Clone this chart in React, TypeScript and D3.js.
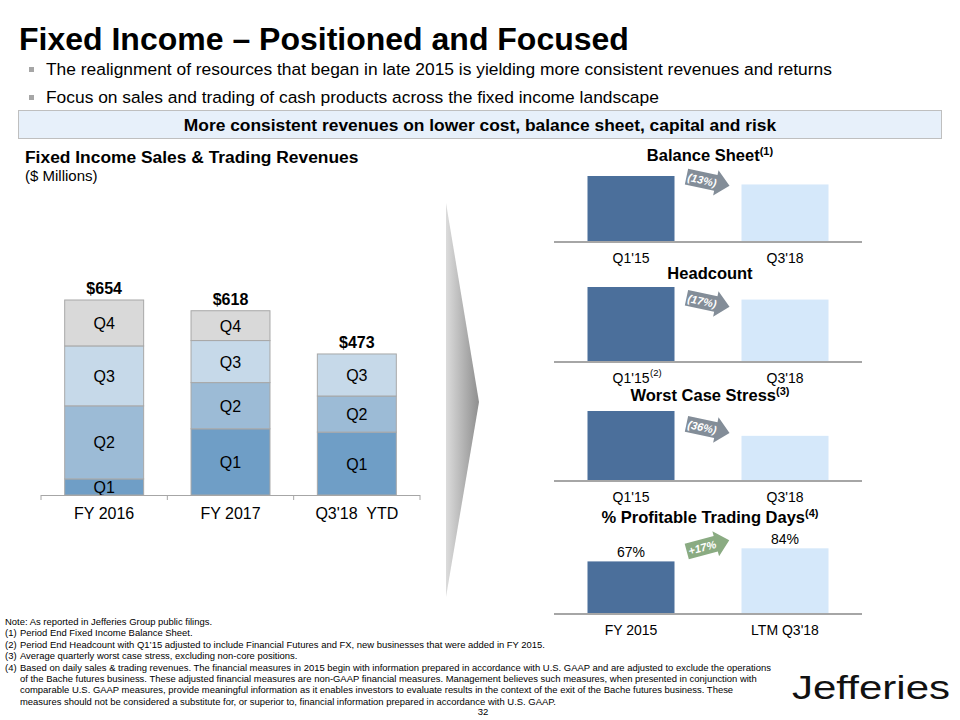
import React from "react";
import * as d3 from "d3";

// ---------- Data ----------
const categories = ["FY 2016", "FY 2017", "Q3'18  YTD"];
const quarterKeys = ["Q1", "Q2", "Q3", "Q4"];
const q1Values = [54, 222, 211];
const q2Values = [245, 155, 121];
const q3Values = [201, 141, 141];
const q4Values = [154, 100, 0];

const panelTitles = ["Balance Sheet", "Headcount", "Worst Case Stress", "% Profitable Trading Days"];
const panelTitleNotes = ["(1)", "", "(3)", "(4)"];
const panelCategories = [
  ["Q1'15", "Q3'18"],
  ["Q1'15", "Q3'18"],
  ["Q1'15", "Q3'18"],
  ["FY 2015", "LTM Q3'18"],
];
const panelCategoryNotes = [["", ""], ["(2)", ""], ["", ""], ["", ""]];
const panelValues = [
  [100, 87],
  [100, 83],
  [100, 64],
  [67, 84],
];
const panelValueLabels = [["", ""], ["", ""], ["", ""], ["67%", "84%"]];
const panelChanges = ["(13%)", "(17%)", "(36%)", "+17%"];

const bulletTexts = [
  "The realignment of resources that began in late 2015 is yielding more consistent revenues and returns",
  "Focus on sales and trading of cash products across the fixed income landscape",
];
const footnotes = [
  "Note: As reported in Jefferies Group public filings.",
  "(1)|Period End Fixed Income Balance Sheet.",
  "(2)|Period End Headcount with Q1\u201915 adjusted to include Financial Futures and FX, new businesses that were added in FY 2015.",
  "(3)|Average quarterly worst case stress, excluding non-core positions.",
  "(4)|Based on daily sales & trading revenues. The financial measures in 2015 begin with information prepared in accordance with U.S. GAAP and are adjusted to exclude the operations",
  "|of the Bache futures business. These adjusted financial measures are non-GAAP financial measures. Management believes such measures, when presented in conjunction with",
  "|comparable U.S. GAAP measures, provide meaningful information as it enables investors to evaluate results in the context of the exit of the Bache futures business. These",
  "|measures should not be considered a substitute for, or superior to, financial information prepared in accordance with U.S. GAAP.",
];

// ---------- Styles ----------
const FONT = "'Liberation Sans', Arial, Helvetica, sans-serif";
const quarterColors = ["#6f9ec6", "#9cbbd6", "#c6d9e9", "#d9d9d9"];
const darkBar = "#4b6f9b";
const lightBar = "#d5e8fa";
const axisGray = "#a6a6a6";

// panel layout
const panelBaselines = [241, 361, 480, 613];
const panelHeights = [65, 74, 69, 77];
const panelTitleYs = [161, 279, 401, 523];
const arrowOffsets = [1, 9, 5, -9];

export default function App() {
  // ---- left stacked chart ----
  const x = d3.scaleBand<string>().domain(categories).range([41, 420]).paddingInner(0.375).paddingOuter(0.1875);
  const y = d3.scaleLinear().domain([0, 654]).range([495, 300]);
  const rows = categories.map((c, i) => ({
    cat: c,
    Q1: q1Values[i],
    Q2: q2Values[i],
    Q3: q3Values[i],
    Q4: q4Values[i],
  }));
  const stack = d3.stack<any>().keys(quarterKeys)(rows);
  const totals = rows.map((r) => r.Q1 + r.Q2 + r.Q3 + r.Q4);
  const tickXs = [41, ...categories.map((c) => (x(c) as number) + x.bandwidth() + (x.step() - x.bandwidth()) / 2)];

  // ---- right panels ----
  const px = d3.scaleBand<number>().domain([0, 1]).range([554, 862]).paddingInner(0.435).paddingOuter(0.2175);

  return (
    <svg
      width={960}
      height={720}
      style={{ position: "absolute", left: 0, top: 0, background: "#fff" }}
      fontFamily={FONT}
    >
      <defs>
        <linearGradient id="chev" x1="0" x2="1" y1="0" y2="0">
          <stop offset="0" stopColor="#dcdcdc" />
          <stop offset="1" stopColor="#8e8e8e" />
        </linearGradient>
      </defs>
      <rect x={0} y={0} width={960} height={720} fill="#fff" />

      {/* Title */}
      <text x={19} y={50} fontSize={32} fontWeight="bold" fill="#000">
        Fixed Income – Positioned and Focused
      </text>
      {bulletTexts.map((t, i) => (
        <g key={i}>
          <rect x={29} y={67 + i * 28} width={5} height={5} fill="#a6a6a6" />
          <text x={46} y={75 + i * 28} fontSize={17.4} fill="#000">
            {t}
          </text>
        </g>
      ))}
      <rect x={18.5} y={110.5} width={923} height={28} fill="#e7f0fa" stroke="#bfbfbf" strokeWidth={1} />
      <text x={480} y={131} fontSize={17.4} fontWeight="bold" textAnchor="middle" fill="#000">
        More consistent revenues on lower cost, balance sheet, capital and risk
      </text>

      {/* Left chart titles */}
      <text x={25} y={163} fontSize={17.4} fontWeight="bold" fill="#000">
        Fixed Income Sales &amp; Trading Revenues
      </text>
      <text x={25} y={181} fontSize={15} fill="#000">
        ($ Millions)
      </text>

      {/* Stacked bars */}
      {stack.map((layer, li) => (
        <g key={layer.key}>
          {layer.map((d, i) => {
            const h = y(d[0]) - y(d[1]);
            if (h <= 0) return null;
            const bx = x(categories[i]) as number;
            return (
              <g key={i}>
                <rect
                  x={bx}
                  y={y(d[1])}
                  width={x.bandwidth()}
                  height={h}
                  fill={quarterColors[li]}
                  stroke="#a8a8a8"
                  strokeWidth={1}
                />
                <text
                  x={bx + x.bandwidth() / 2}
                  y={(y(d[0]) + y(d[1])) / 2 + 6}
                  fontSize={16}
                  textAnchor="middle"
                  fill="#000"
                >
                  {layer.key}
                </text>
              </g>
            );
          })}
        </g>
      ))}
      {totals.map((t, i) => (
        <text
          key={i}
          x={(x(categories[i]) as number) + x.bandwidth() / 2}
          y={y(t) - 6}
          fontSize={16}
          fontWeight="bold"
          textAnchor="middle"
          fill="#000"
        >
          {"$" + t}
        </text>
      ))}
      <line x1={41} x2={420} y1={495.5} y2={495.5} stroke={axisGray} strokeWidth={1} />
      {tickXs.map((tx, i) => (
        <line key={i} x1={tx} x2={tx} y1={495} y2={500} stroke={axisGray} strokeWidth={1} />
      ))}
      {categories.map((c) => (
        <text
          key={c}
          x={(x(c) as number) + x.bandwidth() / 2}
          y={519}
          fontSize={16}
          textAnchor="middle"
          fill="#000"
          style={{ whiteSpace: "pre" }}
        >
          {c}
        </text>
      ))}

      {/* Chevron */}
      <path d="M446,203 L479,402 L446,597 Z" fill="url(#chev)" />

      {/* Right panels */}
      {panelTitles.map((title, pi) => {
        const base = panelBaselines[pi];
        const py = d3.scaleLinear().domain([0, 100]).range([base, base - panelHeights[pi]]);
        const vals = panelValues[pi];
        const tops = vals.map((v) => py(v));
        const ax = ((px(0) as number) + px.bandwidth() + (px(1) as number)) / 2;
        const ay = (tops[0] + tops[1]) / 2 + arrowOffsets[pi];
        const up = vals[1] > vals[0];
        const rot = up ? -15 : 12;
        const arrowFill = up ? "#8aab82" : "#838d98";
        return (
          <g key={pi}>
            <text x={710} y={panelTitleYs[pi]} fontSize={16.5} fontWeight="bold" textAnchor="middle" fill="#000">
              {title}
              {panelTitleNotes[pi] && (
                <tspan fontSize={11} dy={-6}>
                  {panelTitleNotes[pi]}
                </tspan>
              )}
            </text>
            {vals.map((v, i) => (
              <rect
                key={i}
                x={px(i) as number}
                y={py(v)}
                width={px.bandwidth()}
                height={base - py(v)}
                fill={i === 0 ? darkBar : lightBar}
              />
            ))}
            {panelValueLabels[pi].map((l, i) =>
              l ? (
                <text
                  key={i}
                  x={(px(i) as number) + px.bandwidth() / 2}
                  y={py(vals[i]) - 4}
                  fontSize={14}
                  textAnchor="middle"
                  fill="#000"
                >
                  {l}
                </text>
              ) : null
            )}
            <line x1={554} x2={862} y1={base + 1} y2={base + 1} stroke={axisGray} strokeWidth={2} />
            {panelCategories[pi].map((c, i) => (
              <g key={c + i}>
                <text
                  x={(px(i) as number) + px.bandwidth() / 2}
                  y={base + 22}
                  fontSize={14}
                  textAnchor="middle"
                  fill="#000"
                >
                  {c}
                </text>
                {panelCategoryNotes[pi][i] && (
                  <text
                    x={(px(i) as number) + px.bandwidth() / 2 + 19}
                    y={base + 15}
                    fontSize={9.5}
                    fill="#000"
                  >
                    {panelCategoryNotes[pi][i]}
                  </text>
                )}
              </g>
            ))}
            <g transform={`translate(${ax},${ay}) rotate(${rot})`}>
              <path d="M-22,-8 L8,-8 L8,-13 L22,0 L8,13 L8,8 L-22,8 Z" fill={arrowFill} />
              <text x={-6} y={4} fontSize={11} fontStyle="italic" fontWeight="bold" textAnchor="middle" fill="#fff">
                {panelChanges[pi]}
              </text>
            </g>
          </g>
        );
      })}

      {/* Footnotes */}
      {footnotes.map((f, i) => {
        const parts = f.split("|");
        const yy = 625 + i * 11.4;
        if (parts.length === 1) {
          return (
            <text key={i} x={5} y={yy} fontSize={9.45} fill="#000">
              {parts[0]}
            </text>
          );
        }
        return (
          <g key={i}>
            {parts[0] && (
              <text x={5} y={yy} fontSize={9.45} fill="#000">
                {parts[0]}
              </text>
            )}
            <text x={20} y={yy} fontSize={9.45} fill="#000">
              {parts[1]}
            </text>
          </g>
        );
      })}
      <text x={483} y={715} fontSize={9.5} textAnchor="middle" fill="#000">
        32
      </text>

      {/* Logo */}
      <text x={792} y={699} fontSize={34} fill="#111" textLength={158} lengthAdjust="spacingAndGlyphs">
        Jefferies
      </text>
    </svg>
  );
}
